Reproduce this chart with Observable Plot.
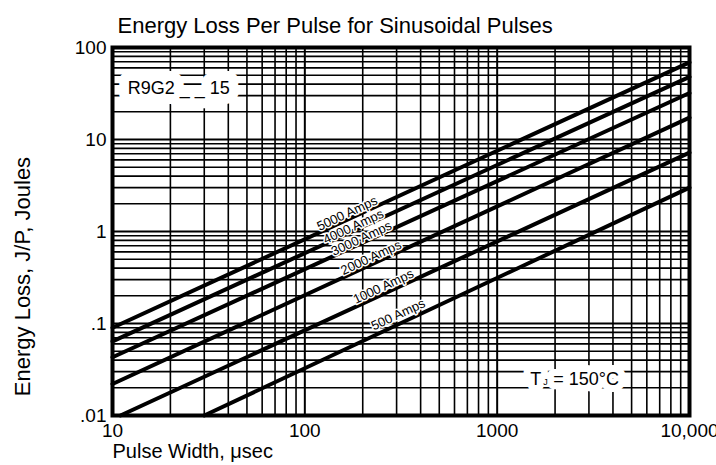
<!DOCTYPE html>
<html>
<head>
<meta charset="utf-8">
<script src="https://cdn.jsdelivr.net/npm/d3@7"></script>
<script src="https://cdn.jsdelivr.net/npm/@observablehq/plot@0.6"></script>
<style>
  html, body { margin: 0; padding: 0; background: #fff; }
</style>
</head>
<body>
<div id="chart"></div>
<script>
// ---- data ----
const amps        = [5000, 4000, 3000, 2000, 1000, 500];
const startWidth  = [10, 10, 10, 10, 11, 30];          // µsec
const startLoss   = [0.090, 0.064, 0.043, 0.022, 0.010, 0.010]; // Joules
const endWidth    = [10000, 10000, 10000, 10000, 10000, 10000];
const endLoss     = [69, 48, 32, 17.3, 7.2, 3.0];
// label anchor positions along each curve
const labelWidth  = [166, 179, 197, 221, 256, 306];
const labelLoss   = [1.57, 1.13, 0.84, 0.52, 0.252, 0.125];

const xTickValues = [10, 100, 1000, 10000];
const xTickLabels = ["10", "100", "1000", "10,000"];
const yTickValues = [0.01, 0.1, 1, 10, 100];
const yTickLabels = [".01", ".1", "1", "10", "100"];

const xDomain = [10, 10000];
const yDomain = [0.01, 100];

// build tables
const curves = [];
amps.forEach((a, i) => {
  curves.push({amps: a, width: startWidth[i], loss: startLoss[i]});
  curves.push({amps: a, width: endWidth[i], loss: endLoss[i]});
});
const labels = amps.map((a, i) => ({text: a + " Amps", width: labelWidth[i], loss: labelLoss[i]}));

const xGrid = d3.scaleLog().domain(xDomain).ticks();
const yGrid = d3.scaleLog().domain(yDomain).ticks();
const isDecade = v => Math.abs(Math.log10(v) - Math.round(Math.log10(v))) < 1e-9;

const FONT = "Liberation Sans, Arial, sans-serif";

const tjX = 1484, tjY = 0.0246;

const chart = Plot.plot({
  width: 716,
  height: 465,
  marginLeft: 112,
  marginRight: 27,
  marginTop: 47,
  marginBottom: 50,
  style: {fontFamily: FONT, color: "#000", background: "#fff"},
  x: {type: "log", domain: xDomain},
  y: {type: "log", domain: yDomain},
  marks: [
    Plot.ruleX(xGrid, {stroke: "#000", strokeWidth: d => isDecade(d) ? 2 : 1.6}),
    Plot.ruleY(yGrid, {stroke: "#000", strokeWidth: d => isDecade(d) ? 2 : 1.6}),
    Plot.line(curves, {x: "width", y: "loss", z: "amps", stroke: "#000", strokeWidth: 4}),
    Plot.text(labels, {
      x: "width", y: "loss", text: "text", rotate: -25,
      fontSize: 13, fill: "#000", stroke: "#fff", strokeWidth: 3, paintOrder: "stroke"
    }),
    Plot.text(["R9G2 _ _ 15"], {
      x: [12.0], y: [35.8], textAnchor: "start", fontSize: 18,
      fill: "#000", stroke: "#fff", strokeWidth: 20, paintOrder: "stroke"
    }),
    Plot.text(["T"], {
      x: [tjX], y: [tjY], textAnchor: "start", fontSize: 18,
      fill: "#000", stroke: "#fff", strokeWidth: 14, paintOrder: "stroke"
    }),
    Plot.text(["= 150°C"], {
      x: [tjX], y: [tjY], textAnchor: "start", dx: 23, fontSize: 18,
      fill: "#000", stroke: "#fff", strokeWidth: 14, paintOrder: "stroke"
    }),
    Plot.text(["J"], {x: [tjX], y: [tjY], textAnchor: "start", dx: 13, dy: 3, fontSize: 9, fill: "#000"}),
    Plot.frame({stroke: "#000", strokeWidth: 4}),
    Plot.axisX(xTickValues, {
      tickSize: 0, tickPadding: 8, fontSize: 19, label: null,
      tickFormat: d => xTickLabels[xTickValues.indexOf(d)]
    }),
    Plot.axisY(yTickValues, {
      tickSize: 0, tickPadding: 6, fontSize: 19, label: null,
      tickFormat: d => yTickLabels[yTickValues.indexOf(d)]
    }),
    Plot.text(["Energy Loss Per Pulse for Sinusoidal Pulses"], {
      frameAnchor: "top-left", textAnchor: "start", dx: 5, dy: -30, fontSize: 22, fill: "#000"
    }),
    Plot.text(["Pulse Width, μsec"], {
      frameAnchor: "bottom-left", textAnchor: "start", dx: 0, dy: 42, fontSize: 20, fill: "#000"
    }),
    Plot.text(["Energy Loss, J/P, Joules"], {
      y: [0.324], frameAnchor: "left", textAnchor: "middle", rotate: -90, dx: -90, fontSize: 22, fill: "#000"
    })
  ]
});
document.getElementById("chart").appendChild(chart);
</script>
</body>
</html>
